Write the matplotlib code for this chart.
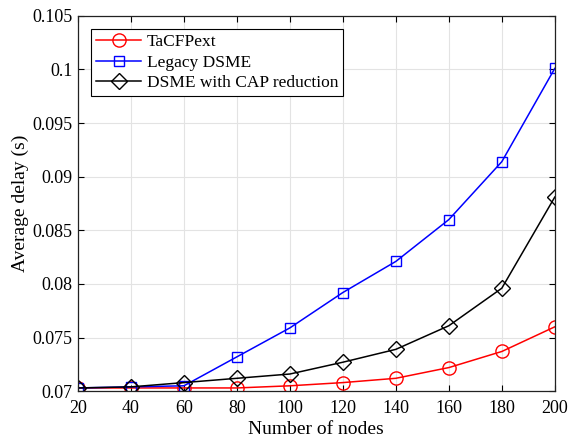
import matplotlib
matplotlib.use("Agg")
import matplotlib.pyplot as plt
from matplotlib.ticker import FuncFormatter

nodes = [20, 40, 60, 80, 100, 120, 140, 160, 180, 200]
tacfpext = [0.0703, 0.0703, 0.0703, 0.0703, 0.0705, 0.0708, 0.0712, 0.0722, 0.0737, 0.0760]
legacy = [0.0703, 0.0704, 0.0705, 0.0732, 0.0759, 0.0792, 0.0821, 0.0860, 0.0914, 0.1001]
capred = [0.0703, 0.0704, 0.0708, 0.0712, 0.0716, 0.0727, 0.0739, 0.0761, 0.0796, 0.0881]

plt.rcParams['font.family'] = ['Liberation Serif', 'DejaVu Serif']
plt.rcParams['font.size'] = 12

fig = plt.figure(figsize=(5.69, 4.41), dpi=100)
ax = fig.add_axes([0.137, 0.113, 0.838, 0.851])

ax.plot(nodes, tacfpext, color='red', marker='o', markersize=9.5, markerfacecolor='none',
        linewidth=1.1, label='TaCFPext')
ax.plot(nodes, legacy, color='blue', marker='s', markersize=7.5, markerfacecolor='none',
        linewidth=1.1, label='Legacy DSME')
ax.plot(nodes, capred, color='black', marker='D', markersize=8, markerfacecolor='none',
        linewidth=1.1, label='DSME with CAP reduction')

ax.set_xlim(20, 200)
ax.set_ylim(0.07, 0.105)
ax.set_xticks(nodes)
ax.set_yticks([0.07, 0.075, 0.08, 0.085, 0.09, 0.095, 0.1, 0.105])
ax.yaxis.set_major_formatter(FuncFormatter(lambda v, p: ('%.3f' % v).rstrip('0')))
ax.tick_params(direction='in', top=True, right=True, length=4, width=0.8, labelsize=13)
ax.tick_params(axis='x', pad=6)
ax.tick_params(axis='y', pad=4)
ax.grid(True, color='#e3e3e3', linewidth=0.8)
ax.set_axisbelow(True)
for s in ax.spines.values():
    s.set_linewidth(0.9)
    s.set_color('#222222')
ax.set_xlabel('Number of nodes', fontsize=14, labelpad=3)
ax.set_ylabel('Average delay (s)', fontsize=14, labelpad=2)

leg = ax.legend(loc='upper left', fancybox=False, edgecolor='black', framealpha=1,
                fontsize=12.5, borderpad=0.3, labelspacing=0.25, handlelength=2.6,
                handletextpad=0.3, bbox_to_anchor=(0.0, 1.0), borderaxespad=0.75)
leg.get_frame().set_linewidth(0.8)

fig.savefig('out.png', dpi=100)
